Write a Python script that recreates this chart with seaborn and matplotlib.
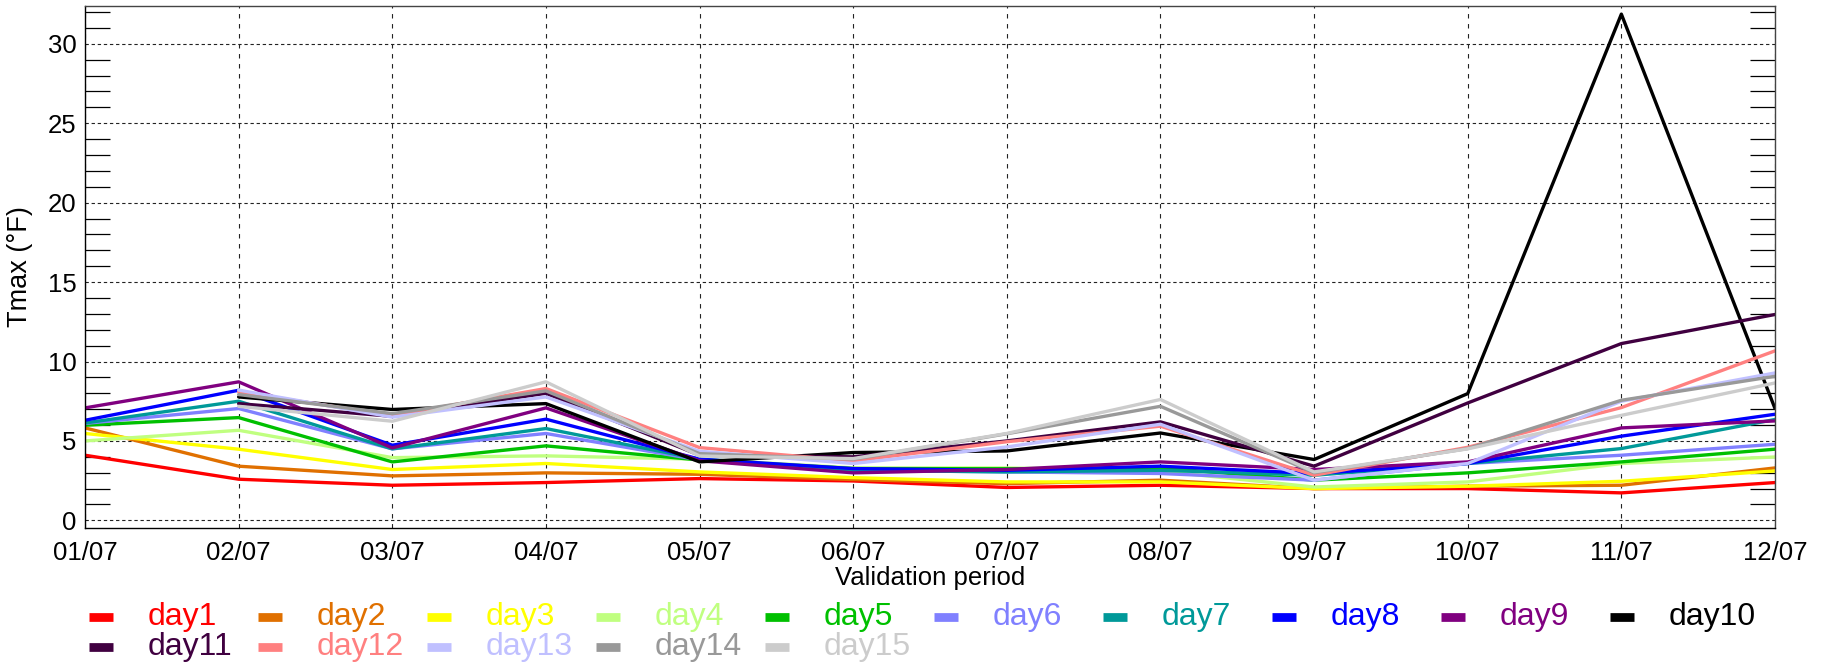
import numpy as np
import pandas as pd
import matplotlib
matplotlib.use("Agg")
import matplotlib.pyplot as plt
from matplotlib.ticker import MultipleLocator, FixedLocator
from matplotlib.lines import Line2D
import seaborn as sns

dates = ["01/07", "02/07", "03/07", "04/07", "05/07", "06/07",
         "07/07", "08/07", "09/07", "10/07", "11/07", "12/07"]
nan = np.nan
day1 = [4.10, 2.59, 2.21, 2.38, 2.63, 2.48, 2.07, 2.21, 2.00, 2.00, 1.73, 2.38]
day2 = [5.82, 3.41, 2.80, 2.99, 2.90, 2.57, 2.31, 2.53, 2.00, 2.15, 2.21, 3.30]
day3 = [5.47, 4.48, 3.20, 3.58, 3.05, 2.69, 2.42, 2.42, 2.00, 2.15, 2.46, 3.11]
day4 = [5.00, 5.67, 3.95, 4.06, 3.85, 3.30, 3.30, 3.10, 2.10, 2.42, 3.58, 3.99]
day5 = [5.99, 6.47, 3.68, 4.69, 3.80, 3.26, 3.25, 3.30, 2.53, 2.99, 3.68, 4.48]
day6 = [6.10, 7.04, 4.50, 5.47, 3.80, 3.15, 3.05, 2.95, 2.53, 3.58, 4.10, 4.79]
day7 = [6.13, 7.50, 4.50, 5.78, 3.85, 3.15, 3.05, 3.15, 2.84, 3.58, 4.52, 6.35]
day8 = [6.30, 8.19, 4.73, 6.37, 3.85, 3.26, 3.15, 3.41, 2.95, 3.58, 5.30, 6.68]
day9 = [7.08, 8.72, 4.56, 7.08, 3.75, 2.99, 3.20, 3.68, 3.20, 3.68, 5.82, 6.26]
day10 = [nan, 7.77, 6.98, 7.35, 3.68, 4.27, 4.37, 5.50, 3.83, 7.98, 31.87, 7.04]
day11 = [nan, 7.35, 6.55, 8.00, 4.10, 4.00, 5.00, 6.20, 3.41, 7.39, 11.13, 12.96]
day12 = [nan, 8.09, 6.60, 8.30, 4.58, 3.74, 4.95, 5.93, 2.84, 4.60, 7.10, 10.67]
day13 = [nan, 8.20, 6.50, 7.77, 4.35, 3.58, 4.62, 6.05, 2.53, 3.58, 7.50, 9.28]
day14 = [nan, 7.92, 6.72, 8.15, 4.20, 3.85, 5.45, 7.18, 3.00, 4.52, 7.56, 9.07]
day15 = [nan, 7.18, 6.24, 8.72, 4.05, 3.89, 5.47, 7.61, 3.05, 4.50, 6.61, 8.65]

series_names = [f"day{i}" for i in range(1, 16)]
series_values = [day1, day2, day3, day4, day5, day6, day7, day8, day9, day10,
                 day11, day12, day13, day14, day15]
colors = ["#FF0000", "#E07000", "#FFFF00", "#C0FF80", "#00C000",
          "#8080FF", "#009999", "#0000FF", "#800080", "#000000",
          "#400040", "#FF8080", "#C0C0FF", "#999999", "#CCCCCC"]

rows = []
for name, vals in zip(series_names, series_values):
    for i, v in enumerate(vals):
        rows.append({"x": i, "value": v, "series": name})
df = pd.DataFrame(rows).dropna()

sns.set_style("white")
plt.rcParams["font.family"] = ["Liberation Sans", "DejaVu Sans"]

fig = plt.figure(figsize=(18.28, 6.68), dpi=100)
ax = fig.add_axes([85 / 1828, 1 - 528.3 / 668, (1775 - 85) / 1828, (528.3 - 5.7) / 668])

sns.lineplot(data=df, x="x", y="value", hue="series", hue_order=series_names,
             palette=dict(zip(series_names, colors)), linewidth=2.4,
             legend=False, ax=ax, sort=True, estimator=None)

ax.set_xlim(0, len(dates) - 1)
ax.set_ylim(-0.5, 32.4)
ax.set_xticks(range(len(dates)))
ax.set_xticklabels(dates)
ax.yaxis.set_major_locator(FixedLocator([0, 5, 10, 15, 20, 25, 30]))
ax.yaxis.set_minor_locator(MultipleLocator(1))

ax.tick_params(axis="x", which="both", length=0, labelsize=18.5, pad=9, colors="black")
ax.tick_params(axis="y", which="major", length=0, labelsize=18.5, pad=6,
               left=True, right=True, colors="black")
ax.tick_params(axis="y", which="minor", length=18, width=0.9, direction="in",
               left=True, right=True, color="black")

ax.xaxis.grid(True, which="major", color="#222222", linestyle=(0, (4, 5)), linewidth=0.8)
ax.yaxis.grid(True, which="major", color="#222222", linestyle=(0, (3, 2.5)), linewidth=0.8)
ax.set_axisbelow(True)

for sp in ax.spines.values():
    sp.set_color("#444444")
    sp.set_linewidth(1.0)
ax.spines["bottom"].set_color("black")
ax.spines["left"].set_color("black")

ax.set_xlabel("")
ax.set_ylabel("Tmax (°F)", fontsize=19.5, color="black")
ax.yaxis.set_label_coords(-0.0305, 0.5)
fig.text(930 / 1828, 1 - 578 / 668, "Validation period", ha="center", va="center",
         fontsize=18.5, color="black")

# legend, drawn manually in figure coordinates
W, H = 1828.0, 668.0
row_y = [616.7, 646.7]
for idx, (name, col) in enumerate(zip(series_names, colors)):
    r = idx // 10
    c = idx % 10
    x0 = 89 + 169 * c
    y = row_y[r]
    fig.add_artist(Line2D([x0 / W, (x0 + 24) / W], [1 - y / H, 1 - y / H],
                          color=col, linewidth=6.3, solid_capstyle="butt"))
    fig.text((x0 + 59) / W, 1 - y / H, name, color=col, fontsize=23,
             ha="left", va="center")

fig.savefig("out.png", dpi=100)
